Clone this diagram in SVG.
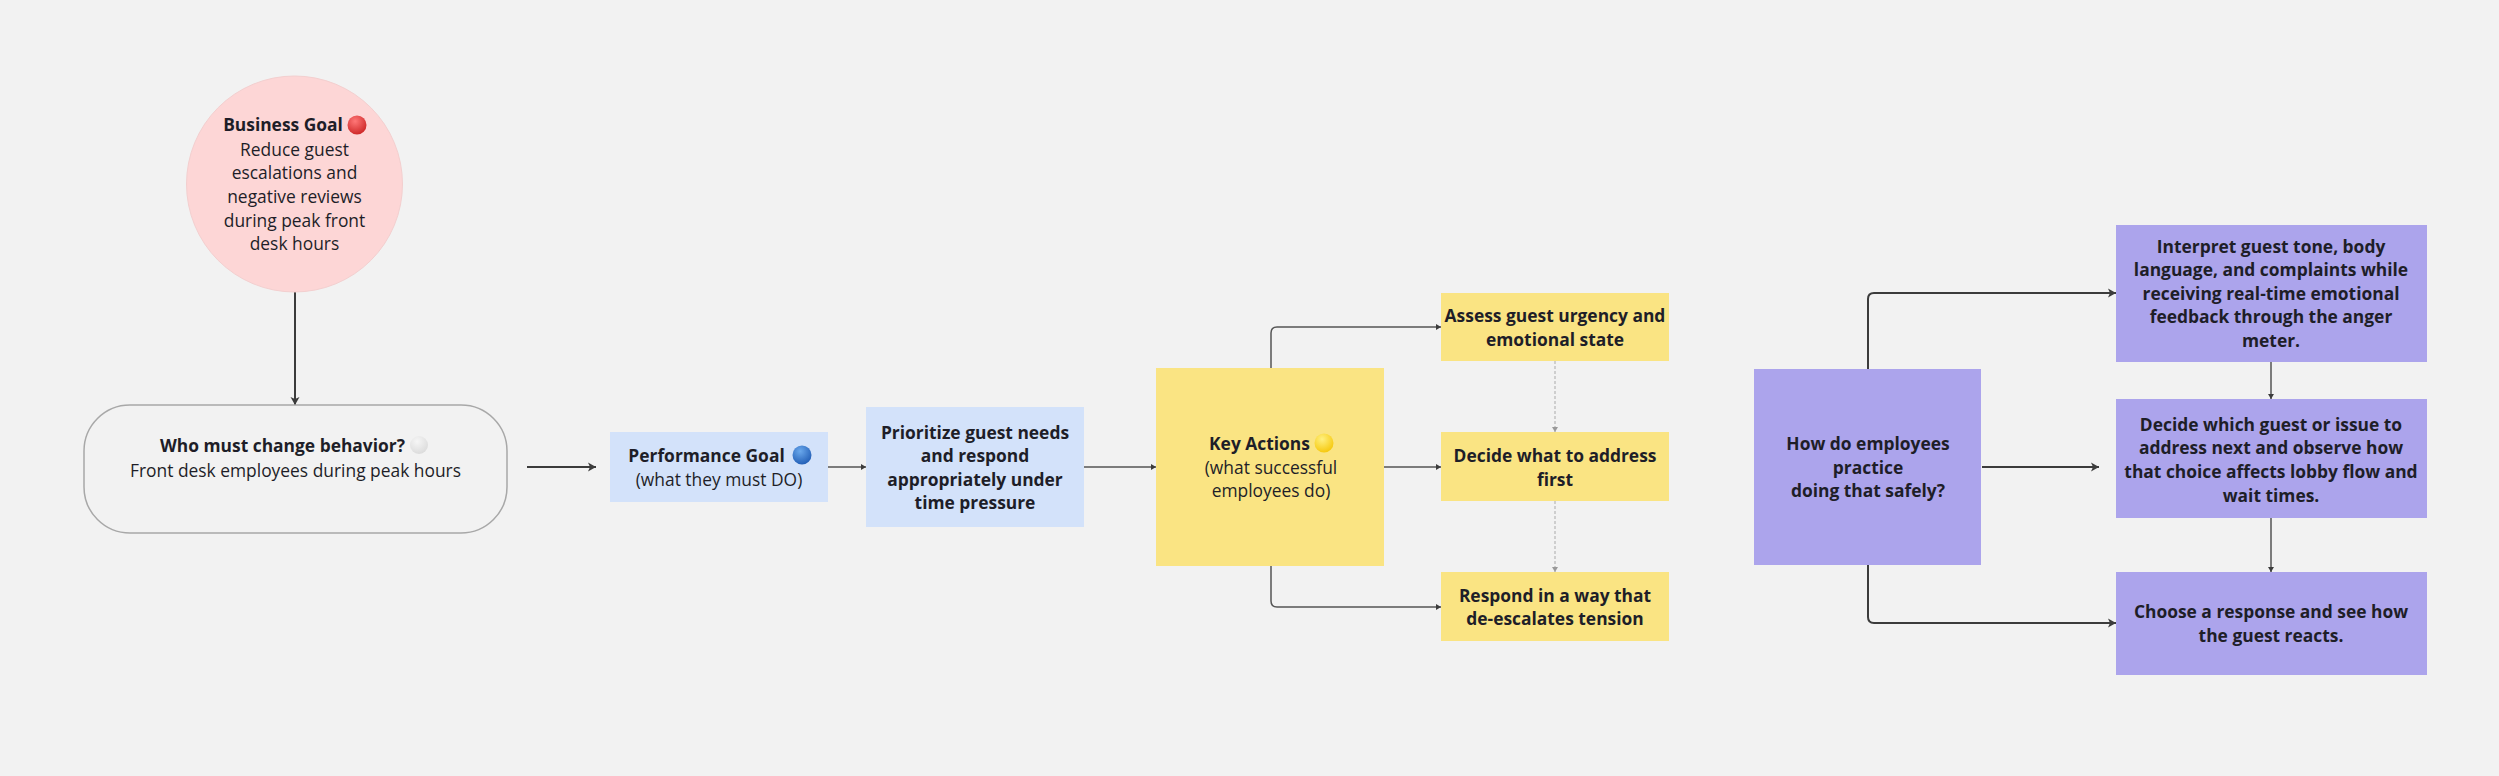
<svg xmlns="http://www.w3.org/2000/svg" width="2499" height="776" viewBox="0 0 2499 776">
<style>
text{font-family:"Open Sans","Noto Sans","Liberation Sans",sans-serif;font-size:17.400px;fill:#1e1e28;text-anchor:middle}
.b{font-weight:700}
.c{fill:none;stroke:#3c3c3c;stroke-width:2;stroke-linejoin:round}
.t{stroke-width:1.500;stroke:#555}
.d{fill:none;stroke:#aaa;stroke-width:1;stroke-dasharray:3 2}
.bl{fill:#d3e2fa}.y{fill:#fae483}.p{fill:#aca4ec}
</style>
<defs>
<marker id="a" markerUnits="userSpaceOnUse" markerWidth="12" markerHeight="12" refX="9" refY="6" orient="auto"><path d="M1 1.500L9 6L1 10.500L3 6Z" fill="#3c3c3c"/></marker>
<marker id="s" markerUnits="userSpaceOnUse" markerWidth="8" markerHeight="8" refX="6" refY="4" orient="auto"><path d="M1 1L6 4L1 7Z" fill="#3c3c3c"/></marker>
<marker id="g" markerUnits="userSpaceOnUse" markerWidth="8" markerHeight="8" refX="6" refY="4" orient="auto"><path d="M1 1L6 4L1 7Z" fill="#999"/></marker>
<radialGradient id="er" cx=".4" cy=".3" r=".8"><stop offset="0" stop-color="#f77"/><stop offset="1" stop-color="#c81e1e"/></radialGradient>
<radialGradient id="eb" cx=".4" cy=".3" r=".8"><stop offset="0" stop-color="#6aa8ec"/><stop offset="1" stop-color="#1a56b0"/></radialGradient>
<radialGradient id="ey" cx=".4" cy=".3" r=".8"><stop offset="0" stop-color="#fff080"/><stop offset="1" stop-color="#f5c400"/></radialGradient>
<radialGradient id="ew" cx=".4" cy=".3" r=".8"><stop offset="0" stop-color="#f6f6f6"/><stop offset="1" stop-color="#d8d8d8"/></radialGradient>
</defs>
<rect width="2499" height="776" fill="#f2f2f2"/>
<g id="connectors">
<path class="c" marker-end="url(#a)" d="M295 292V405"/>
<path class="c" marker-end="url(#a)" d="M527 467H596"/>
<path class="c t" marker-end="url(#s)" d="M828 467H866"/>
<path class="c t" marker-end="url(#s)" d="M1084 467H1156"/>
<path class="c t" marker-end="url(#s)" d="M1271 368V333Q1271 327 1277 327H1441"/>
<path class="c t" marker-end="url(#s)" d="M1384 467H1441"/>
<path class="c t" marker-end="url(#s)" d="M1271 566V601Q1271 607 1277 607H1441"/>
<path class="d" marker-end="url(#g)" d="M1555 361V432"/>
<path class="d" marker-end="url(#g)" d="M1555 501V572"/>
<path class="c" marker-end="url(#a)" d="M1868 369V299Q1868 293 1874 293H2116"/>
<path class="c" marker-end="url(#a)" d="M1982 467H2099"/>
<path class="c" marker-end="url(#a)" d="M1868 565V617Q1868 623 1874 623H2116"/>
<path class="c t" marker-end="url(#s)" d="M2271 362V399"/>
<path class="c t" marker-end="url(#s)" d="M2271 518V572"/>
</g>
<g id="business-goal">
<circle cx="294.500" cy="184" r="108" fill="#fdd6d6" stroke="#f3cfcf"/>
<text class="b" x="283" y="131">Business Goal</text>
<circle cx="357" cy="125" r="9.500" fill="url(#er)"/>
<text><tspan x="294.500" y="156">Reduce guest</tspan><tspan x="294.500" y="179">escalations and</tspan><tspan x="294.500" y="203">negative reviews</tspan><tspan x="294.500" y="227">during peak front</tspan><tspan x="294.500" y="250">desk hours</tspan></text>
</g>
<g id="who-must-change">
<rect x="84" y="405" width="423" height="128" rx="46" fill="#f2f2f2" stroke="#a8a8a8" stroke-width="1.500"/>
<text class="b" x="282.500" y="452">Who must change behavior?</text>
<circle cx="419" cy="445" r="9" fill="url(#ew)"/>
<text x="295.500" y="477">Front desk employees during peak hours</text>
</g>
<g id="performance-goal">
<rect class="bl" x="610" y="432" width="218" height="70"/>
<text class="b" x="706.500" y="462">Performance Goal</text>
<circle cx="802" cy="455" r="9.500" fill="url(#eb)"/>
<text x="719" y="486">(what they must DO)</text>
</g>
<g id="prioritize">
<rect class="bl" x="866" y="407" width="218" height="120"/>
<text class="b"><tspan x="975" y="439">Prioritize guest needs</tspan><tspan x="975" y="462">and respond</tspan><tspan x="975" y="486">appropriately under</tspan><tspan x="975" y="509">time pressure</tspan></text>
</g>
<g id="key-actions">
<rect class="y" x="1156" y="368" width="228" height="198"/>
<text class="b" x="1259.500" y="450">Key Actions</text>
<circle cx="1324" cy="443" r="9.500" fill="url(#ey)"/>
<text><tspan x="1271" y="474">(what successful</tspan><tspan x="1271" y="497">employees do)</tspan></text>
</g>
<g id="assess">
<rect class="y" x="1441" y="293" width="228" height="68"/>
<text class="b"><tspan x="1555" y="322">Assess guest urgency and</tspan><tspan x="1555" y="346">emotional state</tspan></text>
</g>
<g id="decide-first">
<rect class="y" x="1441" y="432" width="228" height="69"/>
<text class="b"><tspan x="1555" y="462">Decide what to address</tspan><tspan x="1555" y="486">first</tspan></text>
</g>
<g id="respond">
<rect class="y" x="1441" y="572" width="228" height="69"/>
<text class="b"><tspan x="1555" y="602">Respond in a way that</tspan><tspan x="1555" y="625">de-escalates tension</tspan></text>
</g>
<g id="practice">
<rect class="p" x="1754" y="369" width="227" height="196"/>
<text class="b"><tspan x="1868" y="450">How do employees</tspan><tspan x="1868" y="474">practice</tspan><tspan x="1868" y="497">doing that safely?</tspan></text>
</g>
<g id="interpret">
<rect class="p" x="2116" y="225" width="311" height="137"/>
<text class="b"><tspan x="2271" y="253">Interpret guest tone, body</tspan><tspan x="2271" y="276">language, and complaints while</tspan><tspan x="2271" y="300">receiving real-time emotional</tspan><tspan x="2271" y="323">feedback through the anger</tspan><tspan x="2271" y="347">meter.</tspan></text>
</g>
<g id="decide-guest">
<rect class="p" x="2116" y="399" width="311" height="119"/>
<text class="b"><tspan x="2271" y="431">Decide which guest or issue to</tspan><tspan x="2271" y="454">address next and observe how</tspan><tspan x="2271" y="478">that choice affects lobby flow and</tspan><tspan x="2271" y="502">wait times.</tspan></text>
</g>
<g id="choose">
<rect class="p" x="2116" y="572" width="311" height="103"/>
<text class="b"><tspan x="2271" y="618">Choose a response and see how</tspan><tspan x="2271" y="642">the guest reacts.</tspan></text>
</g>
</svg>
